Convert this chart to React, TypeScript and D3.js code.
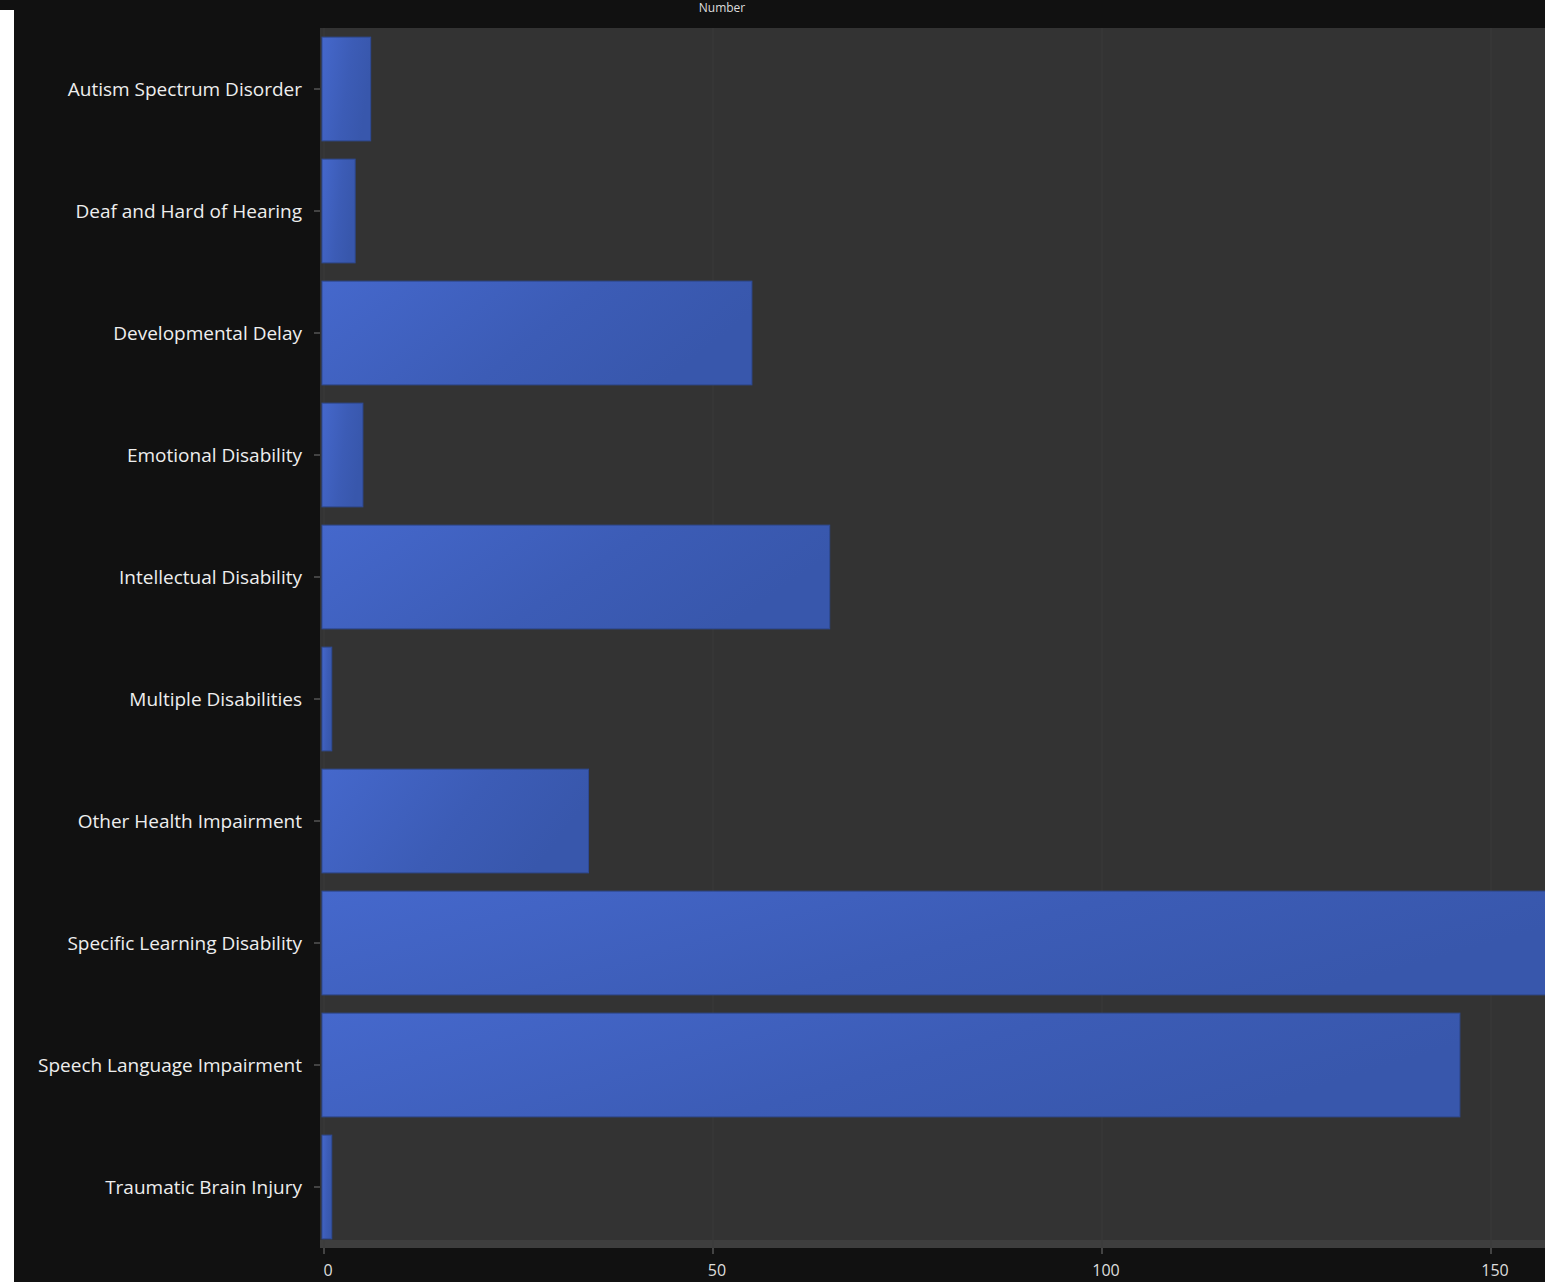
import React from "react";
import * as d3 from "d3";

const categories = [
  "Autism Spectrum Disorder",
  "Deaf and Hard of Hearing",
  "Developmental Delay",
  "Emotional Disability",
  "Intellectual Disability",
  "Multiple Disabilities",
  "Other Health Impairment",
  "Specific Learning Disability",
  "Speech Language Impairment",
  "Traumatic Brain Injury",
];
const values = [6, 4, 55, 5, 65, 1, 34, 160, 146, 1];
const xTicks = [0, 50, 100, 150];
const title = "Number";

const W = 1545;
const H = 1282;
const plotLeft = 320;
const plotTop = 28;
const plotBottom = 1248;
const x0 = 324;
const unit = 7.78;

export default function App() {
  const x = d3.scaleLinear().domain([0, 150]).range([x0, x0 + 150 * unit]);
  const y = d3
    .scaleBand<string>()
    .domain(categories)
    .range([plotTop, plotBottom])
    .paddingInner(0.15)
    .paddingOuter(0.075);

  return (
    <svg
      width={W}
      height={H}
      style={{ position: "absolute", left: 0, top: 0, display: "block" }}
      fontFamily="'Open Sans', 'DejaVu Sans', sans-serif"
    >
      <defs>
        <linearGradient id="barGrad" x1="0" y1="0" x2="1" y2="0.3">
          <stop offset="0" stopColor="#4568cc" />
          <stop offset="0.6" stopColor="#3c5cb6" />
          <stop offset="1" stopColor="#3857ac" />
        </linearGradient>
        <clipPath id="plotClip">
          <rect x={plotLeft} y={plotTop} width={W - plotLeft} height={plotBottom - plotTop} />
        </clipPath>
      </defs>
      <rect x={0} y={0} width={W} height={H} fill="#111111" />
      <rect x={0} y={10} width={14} height={H - 10} fill="#ffffff" />
      <text x={722} y={12} fill="#dddddd" fontSize={12} textAnchor="middle">
        {title}
      </text>
      <rect x={plotLeft} y={plotTop} width={W - plotLeft} height={plotBottom - plotTop} fill="#333333" />
      <rect x={plotLeft} y={plotBottom - 8} width={W - plotLeft} height={8} fill="#3e3e3e" />
      {xTicks.map((t) => (
        <g key={t}>
          <line x1={x(t)} x2={x(t)} y1={plotTop} y2={plotBottom} stroke="#3b3b3b" strokeWidth={1} />
          <line x1={x(t)} x2={x(t)} y1={plotBottom} y2={plotBottom + 6} stroke="#777777" strokeWidth={1} />
          <text x={x(t) + 4} y={plotBottom + 28} fill="#dddddd" fontSize={16} textAnchor="middle">
            {t}
          </text>
        </g>
      ))}
      <g clipPath="url(#plotClip)">
        {categories.map((c, i) => (
          <rect
            key={c}
            x={x(0) - 2}
            y={y(c)}
            width={Math.max(0, x(values[i]) - x(0) + 2)}
            height={y.bandwidth()}
            fill="url(#barGrad)"
            stroke="#2e4a94"
            strokeWidth={1}
          />
        ))}
      </g>
      {categories.map((c) => (
        <g key={c}>
          <line
            x1={plotLeft - 6}
            x2={plotLeft}
            y1={(y(c) as number) + y.bandwidth() / 2}
            y2={(y(c) as number) + y.bandwidth() / 2}
            stroke="#777777"
          />
          <text
            x={302}
            y={(y(c) as number) + y.bandwidth() / 2}
            dy="0.35em"
            fill="#eeeeee"
            fontSize={19}
            textAnchor="end"
          >
            {c}
          </text>
        </g>
      ))}
    </svg>
  );
}
